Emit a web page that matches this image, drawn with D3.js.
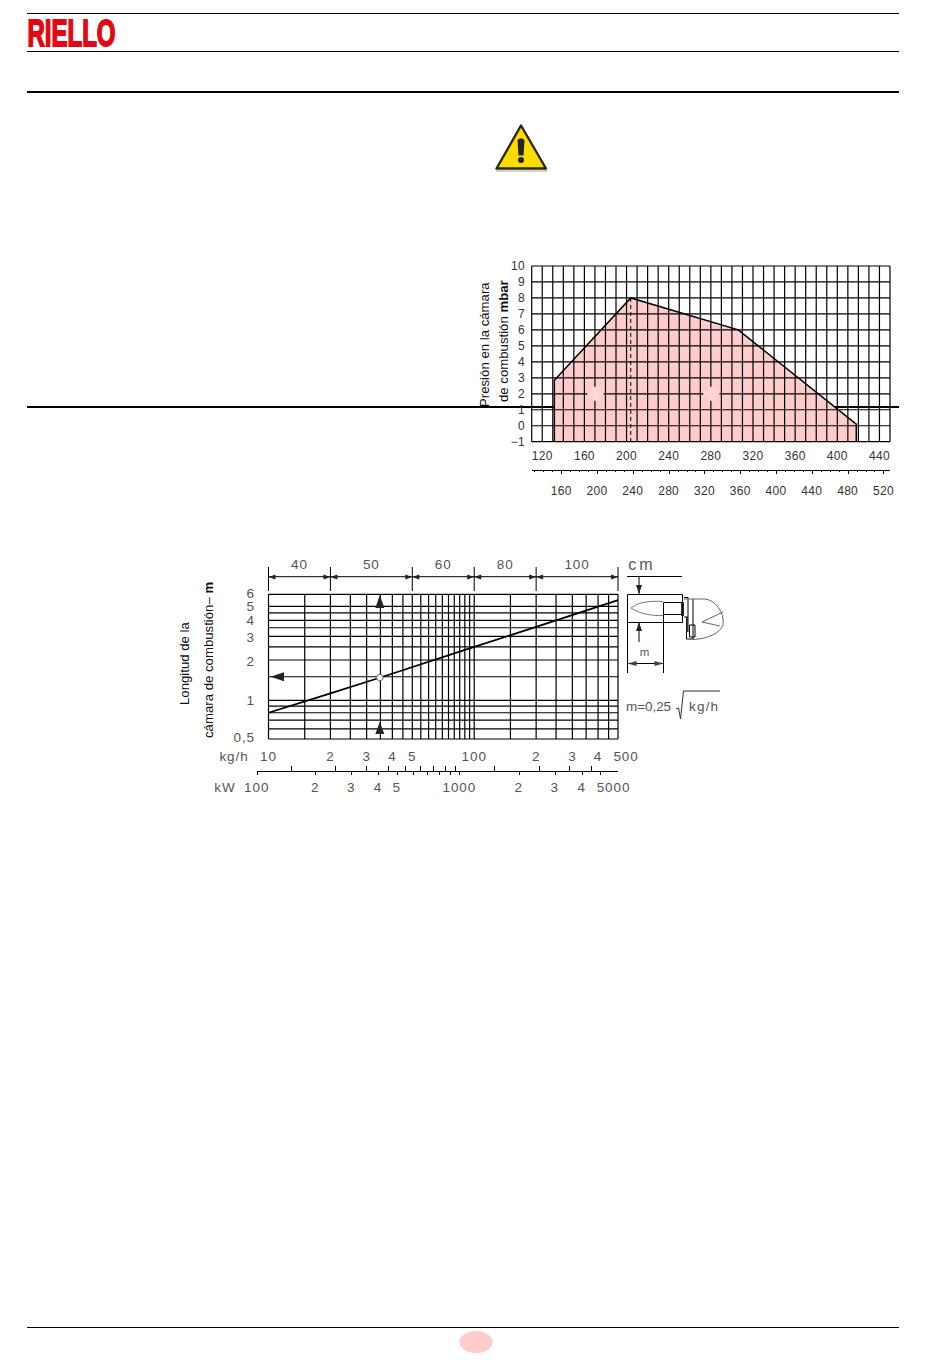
<!DOCTYPE html>
<html><head><meta charset="utf-8">
<script src="https://cdn.jsdelivr.net/npm/d3@7/dist/d3.min.js"></script>
<style>
html,body{margin:0;padding:0;background:#fff}
svg{display:block}
.cad{font-family:"Liberation Sans",Arial,sans-serif;fill:#555;font-size:13.5px;letter-spacing:.9px}
.cad2{font-family:"Liberation Sans",Arial,sans-serif;fill:#333;font-size:12px;letter-spacing:.3px}
.title{font-family:"Liberation Sans",Arial,sans-serif;fill:#111;font-size:13.2px}
.axis path,.axis line{stroke:#000;stroke-width:1;shape-rendering:crispEdges}
</style></head><body>
<svg id="c" width="950" height="1360"></svg>
<script>
// Chart 1: firing range
const rangeKw = [131.5, 131.5, 204, 306, 418, 418];
const rangeMbar = [-1, 2.85, 8, 6, 0.1, -1];
const designKw = 204;
const pressureTicks = [-1,0,1,2,3,4,5,6,7,8,9,10];
const topTicks = [120,160,200,240,280,320,360,400,440];
const bottomTicks = [160,200,240,280,320,360,400,440,480,520];
const gridKw = d3.range(110, 451, 10);
const bottomMinor = d3.range(130, 530, 10);
const blankMarks = [[170, 2],[280, 2]];

// Chart 2: chamber length
const massV = [10,15,20,25,30,35,40,45,50,55,60,65,70,75,80,85,90,95,100,150,200,250,300,350,400,450,500];
const lenH = [0.5,0.6,0.7,0.8,0.9,1,1.5,2,2.5,3,3.5,4,4.5,5,6];
const curveMass = [10,20,35,100,200,500];
const curveLen = [0.8,1.125,1.48,2.5,3.55,5.5];
const readMass = 35, readLen = 1.5;
const dimBreaks = [10,20,50,100,200,500];
const dimLabels = ["40","50","60","80","100"];
const lenLabels = [["6",593],["5",606],["4",620],["3",637],["2",661],["1",700],["0,5",737]];
const massLabels = [["10",10],["2",20],["3",30],["4",40],["5",50],["100",100],["2",200],["3",300],["4",400]];
const kwDown = [100,200,300,400,500,600,700,800,900,1000,2000,3000,4000,5000];
const kwUp = [150,250,350,450,550,650,750,850,950,1500,2500,3500,4500];
const kwLabels = [["100",100],["2",200],["3",300],["4",400],["5",500],["1000",1000],["2",2000],["3",3000],["4",4000]];

const svg = d3.select("#c");
const rule = (y,w)=>svg.append("line").attr("x1",27).attr("x2",899).attr("y1",y).attr("y2",y).attr("stroke","#000").attr("stroke-width",w);
rule(13.5,1); rule(51.5,1); rule(92,2); rule(407,2); rule(1327.5,1);

// Logo
svg.append("text").attr("x",27.5).attr("y",45.5).attr("textLength",88).attr("lengthAdjust","spacingAndGlyphs")
  .attr("font-family","'Liberation Sans Narrow','Liberation Sans',sans-serif").attr("font-weight",700)
  .attr("font-size",37).attr("fill","#e30613").attr("stroke","#e30613").attr("stroke-width",1.8).text("RIELLO");

// Warning sign
const w = svg.append("g");
w.append("path").attr("d","M521,125.5 L546,168.5 L496.5,168.5 Z").attr("fill","#fedc00").attr("stroke","#2a2a10").attr("stroke-width",2.4).attr("stroke-linejoin","round");
w.append("path").attr("d","M496,171 H547").attr("stroke","#a9a77a").attr("stroke-width",1.2);
w.append("path").attr("d","M517.5,140 Q521,136.5 524.5,140 L523.5,155.5 H518.5 Z").attr("fill","#222");
w.append("circle").attr("cx",521).attr("cy",160).attr("r",3).attr("fill","#222");

// Page-number oval
svg.append("ellipse").attr("cx",476).attr("cy",1342).attr("rx",16.5).attr("ry",11).attr("fill","#ffcccc");

// ---- Chart 1
const x1 = d3.scaleLinear().domain([110,450]).range([531.7,890]);
const x1b = d3.scaleLinear().domain([127,527]).range([531.7,889.7]);
const y1 = d3.scaleLinear().domain([-1,10]).range([441.7,266]);
const c1 = svg.append("g");
const poly = d3.line().x((d,i)=>x1(rangeKw[i])).y((d,i)=>y1(rangeMbar[i]));
c1.append("path").attr("d",poly(rangeKw)+"Z").attr("fill","#ffcccc");
c1.append("g").selectAll("line").data(gridKw).join("line").attr("x1",x1).attr("x2",x1).attr("y1",y1(10)).attr("y2",y1(-1))
  .attr("stroke","#000").attr("stroke-width",1.2);
c1.append("g").selectAll("line").data(pressureTicks).join("line").attr("x1",x1(110)).attr("x2",x1(450)).attr("y1",y1).attr("y2",y1)
  .attr("stroke","#000").attr("stroke-width",1.2);
c1.append("g").selectAll("g").data(blankMarks).join("g").each(function(d){
  const g=d3.select(this), cx=x1(d[0])+.5, cy=y1(d[1]);
  g.append("rect").attr("x",cx-8).attr("y",cy-2).attr("width",16).attr("height",4).attr("fill","#ffd6d6");
  g.append("rect").attr("x",cx-4).attr("y",cy-7).attr("width",8).attr("height",14).attr("fill","#ffd6d6");
});
c1.append("path").attr("d",poly(rangeKw)).attr("fill","none").attr("stroke","#000").attr("stroke-width",1.5);
c1.append("line").attr("x1",x1(designKw)).attr("x2",x1(designKw)).attr("y1",y1(8)).attr("y2",y1(-1)).attr("stroke","#000").attr("stroke-dasharray","4 3");
c1.append("g").selectAll("text").data(pressureTicks).join("text").attr("class","cad2")
  .attr("x",525).attr("text-anchor","end").attr("y",d=>y1(d)+4).text(d=>d<0?"−1":d);
c1.append("g").selectAll("text").data(topTicks).join("text").attr("class","cad2").attr("text-anchor","middle")
  .attr("x",x1).attr("y",460).text(d=>d);
c1.append("g").selectAll("text").data(bottomTicks).join("text").attr("class","cad2").attr("text-anchor","middle")
  .attr("x",x1b).attr("y",494.5).text(d=>d);
c1.append("g").attr("class","axis").attr("transform","translate(0,469.5)")
  .call(d3.axisBottom(x1b).tickValues(bottomMinor).tickSize(2).tickFormat("").tickSizeOuter(0));
c1.append("g").attr("class","axis").attr("transform","translate(0,469.5)")
  .call(d3.axisBottom(x1b).tickValues(bottomTicks).tickSize(4).tickFormat("").tickSizeOuter(0));
const rot=(x,y,anchor)=>svg.append("text").attr("class","title").attr("transform",`translate(${x},${y}) rotate(-90)`).attr("text-anchor",anchor);
rot(488.5,407,"start").text("Presión en la cámara");
const t2=rot(508,402,"start"); t2.append("tspan").text("de combustión "); t2.append("tspan").attr("font-weight",700).text("mbar");

// ---- Chart 2
const x2 = d3.scaleLog().domain([10,500]).range([268.5,618]);
const y2 = d3.scaleLog().domain([0.5,1,2,3,4,5,6]).range([739,700.3,660,636.3,620.3,606.3,594.3]);
const kw = d3.scaleLog().domain([100,200,300,400,500,1000,2000,3000,4000,5000,6000])
  .range([256.7,315.3,351.3,378,396.7,459.3,518.7,554.7,581.7,600,617.3]);
const c2 = svg.append("g");
c2.append("g").selectAll("line").data(massV).join("line").attr("x1",x2).attr("x2",x2).attr("y1",y2(6)).attr("y2",y2(0.5))
  .attr("stroke","#000").attr("stroke-width",1.2);
c2.append("g").selectAll("line").data(lenH).join("line").attr("x1",x2(10)).attr("x2",x2(500)).attr("y1",y2).attr("y2",y2)
  .attr("stroke","#000").attr("stroke-width",1.2);
c2.append("path").datum(curveMass).attr("d",d3.line().x(d=>x2(d)).y((d,i)=>y2(curveLen[i])))
  .attr("fill","none").attr("stroke","#000").attr("stroke-width",1.8);
c2.append("circle").attr("cx",x2(readMass)-.6).attr("cy",y2(readLen)+.8).attr("r",3.2).attr("fill","#fff").attr("stroke","#666");
const tri=(d)=>c2.append("path").attr("d",d).attr("fill","#222");
const rx=x2(readMass)-.6;
tri(`M${rx},595 L${rx+4.5},608 L${rx-4.5},608Z`);
tri(`M${rx},722 L${rx+4.5},734 L${rx-4.5},734Z`);
tri(`M${x2(10)+2},${y2(readLen)} L${x2(10)+15.5},${y2(readLen)-4.5} L${x2(10)+15.5},${y2(readLen)+4.5}Z`);
// dimension line
dimBreaks.forEach(b=>c2.append("line").attr("x1",x2(b)).attr("x2",x2(b)).attr("y1",567).attr("y2",591).attr("stroke","#000"));
c2.append("line").attr("x1",x2(10)).attr("x2",x2(500)).attr("y1",576.7).attr("y2",576.7).attr("stroke","#000");
dimLabels.forEach((l,i)=>{
  const a=x2(dimBreaks[i]), b=x2(dimBreaks[i+1]);
  tri(`M${a},577 l7,-2.5 v5Z`); tri(`M${b},577 l-7,-2.5 v5Z`);
  c2.append("text").attr("class","cad").attr("x",(a+b)/2).attr("y",569).attr("text-anchor","middle").text(l);
});
// left labels
lenLabels.forEach(d=>c2.append("text").attr("class","cad").attr("x",255).attr("y",d[1]+5).attr("text-anchor","end").text(d[0]));
// mass labels
massLabels.forEach(d=>c2.append("text").attr("class","cad").attr("x",x2(d[1])).attr("y",760.5).attr("text-anchor","middle").text(d[0]));
c2.append("text").attr("class","cad").attr("x",626).attr("y",760.5).attr("text-anchor","middle").text("500");
c2.append("text").attr("class","cad").attr("x",234).attr("y",760.5).attr("text-anchor","middle").text("kg/h");
// kW axis
c2.append("g").attr("class","axis").attr("transform","translate(0,770.5)")
  .call(d3.axisBottom(kw).tickValues(kwDown).tickSize(4).tickFormat("").tickSizeOuter(0));
c2.append("g").attr("class","axis").attr("transform","translate(0,770.5)")
  .call(d3.axisTop(kw).tickValues(kwUp).tickSize(5).tickFormat("").tickSizeOuter(0));
kwLabels.forEach(d=>c2.append("text").attr("class","cad").attr("x",kw(d[1])).attr("y",791.5).attr("text-anchor","middle").text(d[0]));
c2.append("text").attr("class","cad").attr("x",613.5).attr("y",791.5).attr("text-anchor","middle").text("5000");
c2.append("text").attr("class","cad").attr("x",225).attr("y",791.5).attr("text-anchor","middle").text("kW");
// titles
rot(188.5,705,"start").text("Longitud de la");
const t3=rot(213,738,"start"); t3.append("tspan").text("cámara de combustión– "); t3.append("tspan").attr("font-weight",700).text("m");

// ---- Burner sketch
const s = svg.append("g").attr("fill","none").attr("stroke","#000");
const P=(d,st,sw)=>s.append("path").attr("d",d).attr("stroke",st||"#000").attr("stroke-width",sw||1);
P("M627,576.5 H682"); P("M627.5,673 V594.5 H682.5 V622.5 H627.5");
P("M663.5,602.5 V673"); P("M663.5,602.5 H682 M663.5,614.5 H682");
P("M631,608 C640,601 652,601 663,601.5 M631,608 C640,614 652,616 663,615.5","#777");
P("M639,576 V594 M639,622 V642");
s.append("path").attr("d","M639,594 l-3,-9 h6Z M639,622 l-3,9 h6Z").attr("fill","#222").attr("stroke","none");
P("M627.5,663.5 H663.5");
s.append("path").attr("d","M627.5,663.5 l9,-2.5 v5Z M663.5,663.5 l-9,-2.5 v5Z").attr("fill","#444").attr("stroke","none");
P("M682.5,602 V616","#000",2.6);
P("M684,597.5 H688 V617 H684"); P("M693,599 V639"); P("M686.5,617 V639 H693");
P("M684,599 H705 C715,600 725,612 723,625 C720,633 708,639 693,639.5","#666");
P("M723,612 L702,622 L720,626","#666");
P("M689.5,625 H695 V637 H689.5 Z"); P("M687.5,617 V632","#333",2.2);
// formula
const f=svg.append("g");
f.append("text").attr("class","cad").attr("x",626).attr("y",710.5).attr("textLength",46).text("m=0,25");
f.append("text").attr("class","cad").attr("x",689).attr("y",710.5).attr("textLength",30).text("kg/h");
f.append("path").attr("d","M676,709 L678.5,708 L680.5,719 L683.5,691 H720").attr("fill","none").attr("stroke","#333");
svg.append("text").attr("class","cad").attr("x",642).attr("y",569.5).attr("text-anchor","middle").attr("style","font-size:16px;letter-spacing:3px").text("cm");
svg.append("text").attr("class","cad").attr("x",645).attr("y",656).attr("text-anchor","middle").attr("style","font-size:11.5px").text("m");
</script>
</body></html>
